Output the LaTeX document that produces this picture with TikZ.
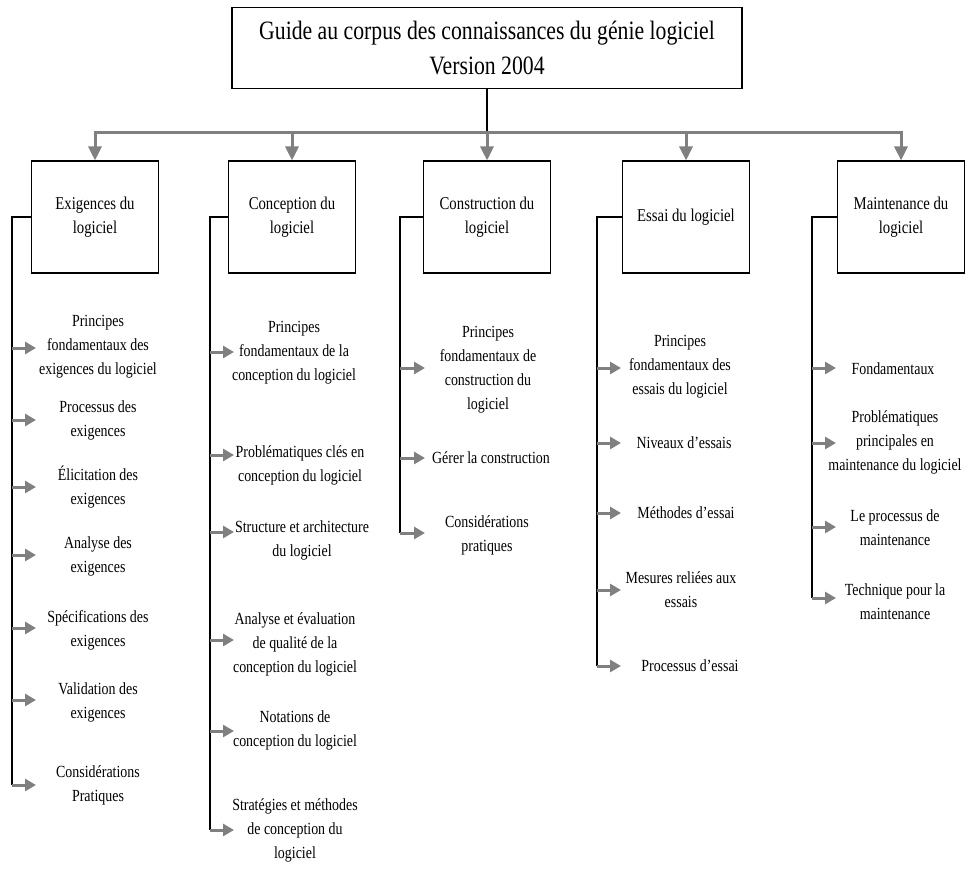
\documentclass[tikz,border=0pt]{standalone}
\usepackage{fontspec}
\setmainfont[FakeStretch=0.82]{Liberation Serif}
\usetikzlibrary{arrows.meta}
\definecolor{linkgray}{RGB}{128,128,128}

\begin{document}
\begin{tikzpicture}[x=1pt,y=-1pt,
  titlebox/.style={draw, line width=1.3pt, minimum width=510pt, minimum height=81pt,
    align=center, inner sep=0pt, font=\fontsize{26.5}{35}\selectfont},
  headbox/.style={draw, line width=1.1pt, minimum width=127pt, minimum height=112pt,
    align=center, inner sep=0pt, font=\fontsize{18}{24}\selectfont},
  item/.style={align=center, inner sep=0pt, font=\fontsize{17}{24}\selectfont},
  trunk/.style={line width=1.1pt, black},
  busline/.style={line width=3pt, linkgray, line cap=rect},
  busarrow/.style={line width=3pt, linkgray, -{Triangle[length=14pt,width=13pt]}},
  itemarrow/.style={line width=3pt, linkgray, -{Triangle[length=11pt,width=12pt]}},
]
\fill[white] (0,0) rectangle (976,869);
\useasboundingbox (0,0) rectangle (976,869);

% root and the five knowledge areas
\node[titlebox] (guide) at (487,48) {Guide au corpus des connaissances du génie logiciel\\Version 2004};
\node[headbox] (req) at (95,217)  {Exigences du\\logiciel};
\node[headbox] (des) at (292,217) {Conception du\\logiciel};
\node[headbox] (con) at (487,217) {Construction du\\logiciel};
\node[headbox] (tst) at (686,217) {Essai du logiciel};
\node[headbox] (mnt) at (901,217) {Maintenance du\\logiciel};

% distribution bus
\coordinate (busjoin) at (487,133);
\draw[trunk] (guide.south) -- (busjoin);
\draw[busline] (req.north |- busjoin) -- (mnt.north |- busjoin);
\foreach \h in {req,des,con,tst,mnt}
  \draw[busarrow] (\h.north |- busjoin) -- (\h.north);

% --- Exigences du logiciel
\node[item] (e1) at (98,347) {Principes\\fondamentaux des\\exigences du logiciel};
\node[item] (e2) at (98,420) {Processus des\\exigences};
\node[item] (e3) at (98,487) {Élicitation des\\exigences};
\node[item] (e4) at (98,556) {Analyse des\\exigences};
\node[item] (e5) at (98,630) {Spécifications des\\exigences};
\node[item] (e6) at (98,702) {Validation des\\exigences};
\node[item] (e7) at (98,785) {Considérations\\Pratiques};
\coordinate (e1t) at (12,348);
\coordinate (e2t) at (12,420);
\coordinate (e3t) at (12,487);
\coordinate (e4t) at (12,555);
\coordinate (e5t) at (12,628);
\coordinate (e6t) at (12,700);
\coordinate (e7t) at (12,785);
\draw[trunk] (req.west) -| (e7t);
\foreach \t in {e1t,e2t,e3t,e4t,e5t,e6t,e7t}
  \draw[itemarrow] (\t) -- ++(24,0);

% --- Conception du logiciel
\node[item] (c1) at (294,353) {Principes\\fondamentaux de la\\conception du logiciel};
\node[item] (c2) at (300,465) {Problématiques clés en\\conception du logiciel};
\node[item] (c3) at (302,540) {Structure et architecture\\du logiciel};
\node[item] (c4) at (295,644) {Analyse et évaluation\\de qualité de la\\conception du logiciel};
\node[item] (c5) at (295,730) {Notations de\\conception du logiciel};
\node[item] (c6) at (295,830) {Stratégies et méthodes\\de conception du\\logiciel};
\coordinate (c1t) at (210,352);
\coordinate (c2t) at (210,455);
\coordinate (c3t) at (210,532);
\coordinate (c4t) at (210,640);
\coordinate (c5t) at (210,731);
\coordinate (c6t) at (210,830);
\draw[trunk] (des.west) -| (c6t);
\foreach \t in {c1t,c2t,c3t,c4t,c5t,c6t}
  \draw[itemarrow] (\t) -- ++(24,0);

% --- Construction du logiciel
\node[item] (k1) at (488,370) {Principes\\fondamentaux de\\construction du\\logiciel};
\node[item] (k2) at (491,458) {Gérer la construction};
\node[item] (k3) at (487,535) {Considérations\\pratiques};
\coordinate (k1t) at (400,368);
\coordinate (k2t) at (400,458);
\coordinate (k3t) at (400,533);
\draw[trunk] (con.west) -| (k3t);
\foreach \t in {k1t,k2t,k3t}
  \draw[itemarrow] (\t) -- ++(25,0);

% --- Essai du logiciel
\node[item] (s1) at (680,367) {Principes\\fondamentaux des\\essais du logiciel};
\node[item] (s2) at (684,443) {Niveaux d'essais};
\node[item] (s3) at (686,513) {Méthodes d'essai};
\node[item] (s4) at (681,590) {Mesures reliées aux\\essais};
\node[item] (s5) at (690,666) {Processus d'essai};
\coordinate (s1t) at (597,368);
\coordinate (s2t) at (597,443);
\coordinate (s3t) at (597,513);
\coordinate (s4t) at (597,590);
\coordinate (s5t) at (597,666);
\draw[trunk] (tst.west) -| (s5t);
\foreach \t in {s1t,s2t,s3t,s4t,s5t}
  \draw[itemarrow] (\t) -- ++(24,0);

% --- Maintenance du logiciel
\node[item] (m1) at (893,369) {Fondamentaux};
\node[item] (m2) at (895,442) {Problématiques\\principales en\\maintenance du logiciel};
\node[item] (m3) at (895,528) {Le processus de\\maintenance};
\node[item] (m4) at (895,602) {Technique pour la\\maintenance};
\coordinate (m1t) at (812,368);
\coordinate (m2t) at (812,443);
\coordinate (m3t) at (812,527);
\coordinate (m4t) at (812,598);
\draw[trunk] (mnt.west) -| (m4t);
\foreach \t in {m1t,m2t,m3t,m4t}
  \draw[itemarrow] (\t) -- ++(24,0);
\end{tikzpicture}
\end{document}
